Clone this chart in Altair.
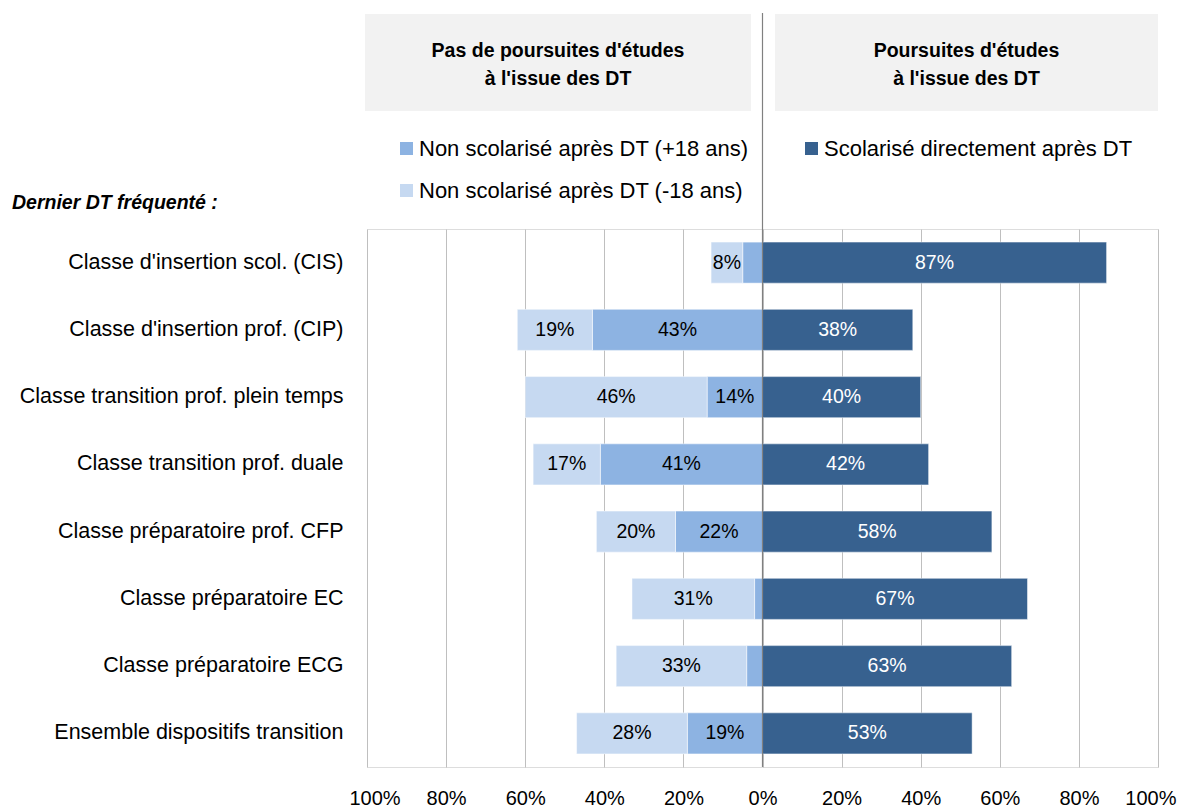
import altair as alt
import pandas as pd

categories = [
    "Classe d'insertion scol. (CIS)",
    "Classe d'insertion prof. (CIP)",
    "Classe transition prof. plein temps",
    "Classe transition prof. duale",
    "Classe préparatoire prof. CFP",
    "Classe préparatoire EC",
    "Classe préparatoire ECG",
    "Ensemble dispositifs transition",
]
non_scol_plus18 = [5, 43, 14, 41, 22, 2, 4, 19]
non_scol_moins18 = [8, 19, 46, 17, 20, 31, 33, 28]
scolarise = [87, 38, 40, 42, 58, 67, 63, 53]

series = [
    "Non scolarisé après DT (+18 ans)",
    "Non scolarisé après DT (-18 ans)",
    "Scolarisé directement après DT",
]
colors = ["#8db3e2", "#c6d9f1", "#37618f"]
headers = [
    "Pas de poursuites d'études\nà l'issue des DT",
    "Poursuites d'études\nà l'issue des DT",
]
axis_title = "Dernier DT fréquenté :"
x_ticks = [-100, -80, -60, -40, -20, 0, 20, 40, 60, 80, 100]

FONT = "Liberation Sans"

rows = []
for i, c in enumerate(categories):
    m, l, d = non_scol_plus18[i], non_scol_moins18[i], scolarise[i]
    rows.append(dict(cat=c, serie=series[0], val=m, x0=0, x1=-m))
    rows.append(dict(cat=c, serie=series[1], val=l, x0=-m, x1=-(m + l)))
    rows.append(dict(cat=c, serie=series[2], val=d, x0=0, x1=d))
df = pd.DataFrame(rows)
df["mid"] = (df["x0"] + df["x1"]) / 2
df["label"] = df["val"].astype(str) + "%"
df["show"] = df["val"] >= 6
df["txtcolor"] = df["serie"].map({series[0]: "black", series[1]: "black", series[2]: "white"})

W, H = 791, 538

xscale = alt.Scale(domain=[-100, 100], nice=False)
yenc = alt.Y(
    "cat:N",
    sort=categories,
    scale=alt.Scale(paddingInner=0.39, paddingOuter=0.195),
    axis=alt.Axis(
        title=None, ticks=False, domain=False, labelFontSize=21.5,
        labelColor="black", labelPadding=24, labelLimit=400, labelFont=FONT,
    ),
)

bars = alt.Chart(df).mark_bar(stroke="white", strokeWidth=0.8, strokeOpacity=0.6).encode(
    x=alt.X(
        "x0:Q", scale=xscale,
        axis=alt.Axis(
            values=x_ticks, title=None, ticks=False, domain=False,
            labelExpr="abs(datum.value) + '%'", labelFontSize=20,
            labelColor="black", labelPadding=21, labelFont=FONT,
            labelFlush=True, labelFlushOffset=18, labelOverlap=False,
            grid=True, gridColor="#bfbfbf", gridWidth=1,
        ),
    ),
    x2="x1:Q",
    y=yenc,
    color=alt.Color("serie:N", scale=alt.Scale(domain=series, range=colors), legend=None),
)

labels = alt.Chart(df).transform_filter("datum.show").mark_text(
    fontSize=19.5, font=FONT
).encode(
    x=alt.X("mid:Q", scale=xscale),
    y=alt.Y("cat:N", sort=categories),
    text="label:N",
    color=alt.Color("txtcolor:N", scale=None),
)

zero_rule = alt.Chart(pd.DataFrame({"z": [0]})).mark_rule(color="#808080", strokeWidth=1.2).encode(
    x=alt.X("z:Q", scale=xscale),
    y=alt.value(-216),
    y2=alt.value(H),
)

hdr_df = pd.DataFrame({
    "text": headers,
    "x0": [-2, 408],
    "x1": [384, 791],
    "xc": [191, 599.5],
})
hdr_boxes = alt.Chart(hdr_df).mark_rect(color="#f2f2f2").encode(
    x=alt.X("x0:Q", scale=None),
    x2="x1:Q",
    y=alt.value(-215),
    y2=alt.value(-118),
)
hdr_text = alt.Chart(hdr_df).mark_text(
    fontSize=19.5, fontWeight="bold", font=FONT, lineBreak="\n", lineHeight=28,
    baseline="middle", align="center",
).encode(
    x=alt.X("xc:Q", scale=None),
    y=alt.value(-178),
    text="text:N",
)

leg_df = pd.DataFrame({
    "serie": series,
    "sx": [39.5, 39.5, 444.5],
    "sy": [-80.5, -38.5, -80.5],
    "tx": [52, 52, 457],
})
leg_sq = alt.Chart(leg_df).mark_square(size=169, opacity=1).encode(
    x=alt.X("sx:Q", scale=None),
    y=alt.Y("sy:Q", scale=None),
    color=alt.Color("serie:N", scale=alt.Scale(domain=series, range=colors), legend=None),
)
leg_txt = alt.Chart(leg_df).mark_text(
    fontSize=22, font=FONT, align="left", baseline="middle", color="black"
).encode(
    x=alt.X("tx:Q", scale=None),
    y=alt.Y("sy:Q", scale=None),
    text="serie:N",
)

title_txt = alt.Chart(pd.DataFrame({"t": [axis_title]})).mark_text(
    fontSize=19.5, fontWeight="bold", fontStyle="italic", font=FONT,
    align="left", baseline="middle", color="black",
).encode(
    x=alt.value(-355),
    y=alt.value(-26),
    text="t:N",
)

chart = alt.layer(
    hdr_boxes, hdr_text, bars, zero_rule, labels, leg_sq, leg_txt, title_txt
).properties(
    width=W, height=H,
    autosize=alt.AutoSizeParams(type="none"),
    padding={"left": 359, "top": 221, "right": 20, "bottom": 40},
).configure_view(
    stroke="#a6a6a6", strokeWidth=1.5
).configure(background="white")

chart.save("out.html", embed_options={"renderer": "svg", "actions": False})
